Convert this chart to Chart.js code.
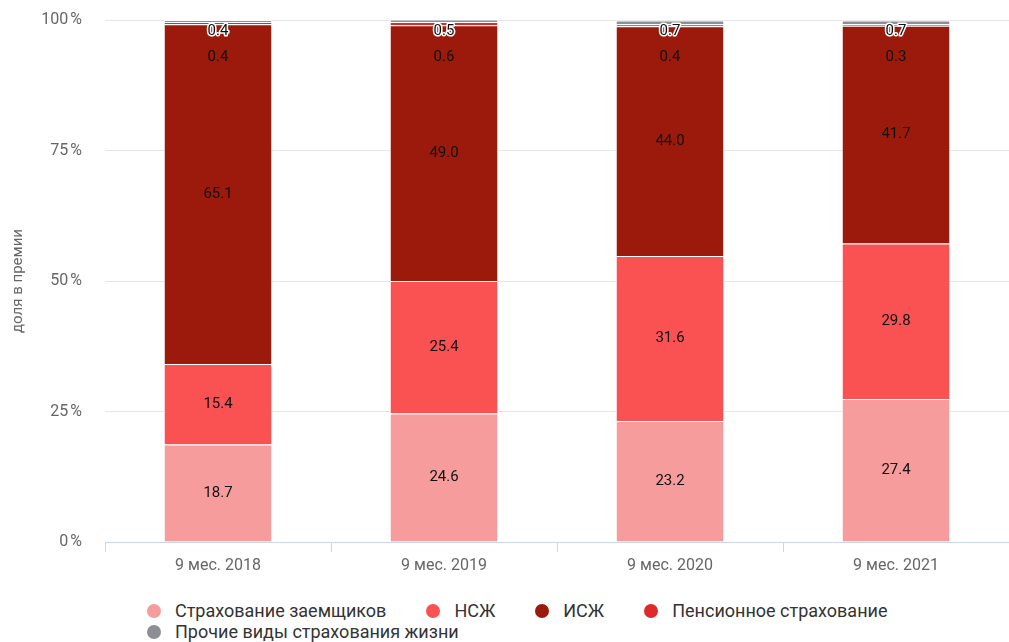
<!DOCTYPE html>
<html lang="ru">
<head>
<meta charset="utf-8">
<title>Структура премий по страхованию жизни</title>
<script src="https://cdn.jsdelivr.net/npm/chart.js@4/dist/chart.umd.min.js"></script>
<style>
  html, body { margin: 0; padding: 0; background: #fff; }
  body { width: 1009px; height: 642px; position: relative; overflow: hidden; font-family: Roboto, "Noto Sans", sans-serif; }
  #wrap { position: absolute; left: 0; top: 0; width: 1009px; height: 590px; }
  #legend { position: absolute; left: 145px; top: 600px; width: 800px; display: flex; flex-wrap: wrap; }
  .item { display: flex; align-items: center; margin-right: 38px; font-size: 18px; color: #333; line-height: 21px; }
  .dot { width: 14px; height: 14px; border-radius: 50%; margin-right: 14px; margin-left: 2px; }
</style>
</head>
<body>
<div id="wrap"><canvas id="lifeChart" width="1009" height="590"></canvas></div>
<div id="legend"></div>
<script>
// Periods on the x axis
const periods = ['9 мес. 2018', '9 мес. 2019', '9 мес. 2020', '9 мес. 2021'];

// Share of premiums by line, %
const borrowers = [18.7, 24.6, 23.2, 27.4];
const endowment = [15.4, 25.4, 31.6, 29.8];
const investment = [65.1, 49.0, 44.0, 41.7];
const pension = [0.4, 0.6, 0.4, 0.3];
const otherLife = [0.4, 0.5, 0.7, 0.7];

const yTicks = [0, 25, 50, 75, 100];

const seriesNames = [
  'Страхование заемщиков',
  'НСЖ',
  'ИСЖ',
  'Пенсионное страхование',
  'Прочие виды страхования жизни',
];
const seriesColors = ['#f79c9c', '#fa5252', '#9b1a0b', '#dd2a2a', '#8c9094'];
const seriesData = [borrowers, endowment, investment, pension, otherLife];

// Data labels drawn in the middle of each segment; the two thin top
// segments get their labels placed at the top of the column.
const segmentLabels = {
  id: 'segmentLabels',
  afterDatasetsDraw(chart) {
    const ctx = chart.ctx;
    const yScale = chart.scales.y;
    ctx.save();
    ctx.font = '15px Roboto, "Noto Sans", sans-serif';
    ctx.textAlign = 'center';
    ctx.textBaseline = 'middle';
    chart.data.datasets.forEach((ds, di) => {
      const meta = chart.getDatasetMeta(di);
      meta.data.forEach((bar, i) => {
        const v = ds.data[i];
        const top = yScale.getPixelForValue(100);
        let y = (bar.y + bar.base) / 2;
        if (di === 3) y = top + 37;
        const txt = v.toFixed(1);
        if (di === 4) {
          y = top + 11;
          ctx.lineWidth = 3;
          ctx.lineJoin = 'round';
          ctx.strokeStyle = '#fff';
          ctx.strokeText(txt, bar.x, y);
        }
        ctx.fillStyle = '#111';
        ctx.fillText(txt, bar.x, y);
      });
    });
    ctx.restore();
  },
};

const datasets = seriesData.map((values, i) => ({
  label: seriesNames[i],
  data: values,
  backgroundColor: seriesColors[i],
  borderColor: '#ffffff',
  borderWidth: 1,
  barPercentage: 0.48,
  categoryPercentage: 1,
}));

new Chart(document.getElementById('lifeChart'), {
  type: 'bar',
  data: { labels: periods, datasets: datasets },
  options: {
    responsive: false,
    animation: false,
    layout: { padding: { top: 20, right: 0, left: 0, bottom: 0 } },
    plugins: {
      legend: { display: false },
      tooltip: { enabled: false },
    },
    scales: {
      x: {
        stacked: true,
        offset: true,
        grid: {
          offset: true,
          drawOnChartArea: false,
          drawTicks: true,
          tickLength: 10,
          color: '#ccd6eb',
        },
        border: { color: '#ccd6eb' },
        ticks: {
          color: '#666',
          font: { size: 16, family: 'Roboto' },
          padding: 4,
        },
        afterFit(scale) { scale.height = 48; },
      },
      y: {
        stacked: true,
        min: 0,
        max: 100,
        afterBuildTicks(scale) {
          scale.ticks = yTicks.map((v) => ({ value: v }));
        },
        grid: { color: '#e6e6e6', drawTicks: false },
        border: { display: false },
        ticks: {
          color: '#666',
          font: { size: 16, family: 'Roboto' },
          padding: 23,
          callback: (v) => v + '\u202F%',
        },
        title: {
          display: true,
          text: 'доля в премии',
          color: '#666',
          font: { size: 15, family: 'Roboto' },
          padding: { top: 9, bottom: 0 },
        },
        afterFit(scale) {
          scale.width = 105;
          scale.paddingTop = 0;
          scale.paddingBottom = 0;
        },
      },
    },
  },
  plugins: [segmentLabels],
});

// Legend below the chart
const legendEl = document.getElementById('legend');
seriesNames.forEach((name, i) => {
  const item = document.createElement('div');
  item.className = 'item';
  const dot = document.createElement('span');
  dot.className = 'dot';
  dot.style.background = seriesColors[i];
  const text = document.createElement('span');
  text.textContent = name;
  item.appendChild(dot);
  item.appendChild(text);
  legendEl.appendChild(item);
});
</script>
</body>
</html>
